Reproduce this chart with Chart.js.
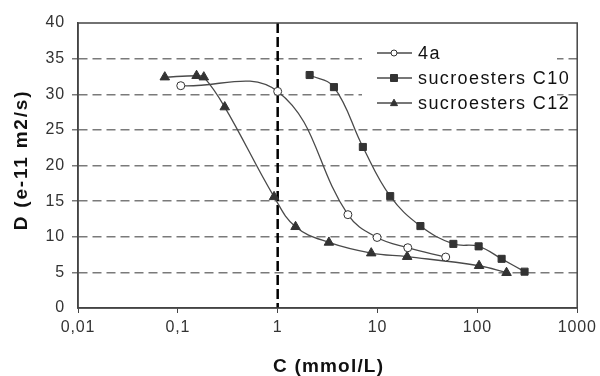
<!DOCTYPE html>
<html>
<head>
<meta charset="utf-8">
<script src="https://cdn.jsdelivr.net/npm/chart.js@4.4.0/dist/chart.umd.min.js"></script>
<style>
  html, body { margin: 0; padding: 0; background: #fff; }
  #wrap { width: 600px; height: 376px; }
</style>
</head>
<body>
<div id="wrap"><canvas id="chart" width="600" height="376"></canvas></div>
<script>
// concentration C (mmol/L) and diffusion D (e-11 m2/s)
const c4a = [0.107, 1.0, 5.05, 9.9, 20.1, 48.2];
const d4a = [31.2, 30.4, 13.1, 9.9, 8.46, 7.15];

const cC10 = [2.09, 3.66, 7.13, 13.4, 26.9, 57.5, 103, 175, 297];
const dC10 = [32.7, 31.0, 22.6, 15.7, 11.5, 9.0, 8.65, 6.9, 5.1];

const cC12 = [0.074, 0.154, 0.182, 0.295, 0.92, 1.51, 3.26, 8.65, 19.8, 104, 196];
const dC12 = [32.4, 32.6, 32.4, 28.2, 15.6, 11.4, 9.2, 7.7, 7.2, 5.93, 4.95];

const seriesNames = ['4a', 'sucroesters C10', 'sucroesters C12'];

const xTickValues = [0.01, 0.1, 1, 10, 100, 1000];
const xTickLabels = ['0,01', '0,1', '1', '10', '100', '1000'];
const markerC = 1; // dashed vertical line

const xTitle = 'C (mmol/L)';
const yTitle = 'D (e-11 m2/s)';

const FONT = "'Liberation Sans', Arial, sans-serif";
const INK = '#333';

function pts(xs, ys) {
    return xs.map((x, i) => ({ x: x, y: ys[i] }));
}

// small marker painter for the legend
function drawMarker(ctx, style, x, y, r, fill) {
    ctx.beginPath();
    if (style === 'circle') {
        ctx.arc(x, y, r, 0, Math.PI * 2);
    } else if (style === 'rect') {
        ctx.rect(x - r, y - r, r * 2, r * 2);
    } else {
        ctx.moveTo(x, y - r * 1.1);
        ctx.lineTo(x + r, y + r * 0.75);
        ctx.lineTo(x - r, y + r * 0.75);
        ctx.closePath();
    }
    ctx.fillStyle = fill;
    ctx.fill();
    ctx.strokeStyle = INK;
    ctx.lineWidth = 1;
    ctx.stroke();
}

const decorPlugin = {
    id: 'decor',
    beforeDraw(chart) {
        // the original text is set a little loose
        chart.ctx.letterSpacing = '0.8px';
    },
    beforeDatasetsDraw(chart) {
        const ctx = chart.ctx;
        const a = chart.chartArea;
        const x1 = chart.scales.x.getPixelForValue(markerC);
        ctx.save();
        // legend background hides the grid
        ctx.fillStyle = '#fff';
        ctx.fillRect(362, 34, 195, 82);
        // dashed line at C = 1
        ctx.setLineDash([10, 4]);
        ctx.strokeStyle = '#000';
        ctx.lineWidth = 2.5;
        ctx.beginPath();
        ctx.moveTo(x1, a.top);
        ctx.lineTo(x1, a.bottom);
        ctx.stroke();
        ctx.restore();
    },
    afterDraw(chart) {
        const ctx = chart.ctx;
        const a = chart.chartArea;
        ctx.save();
        // plot frame
        ctx.strokeStyle = '#444';
        ctx.lineWidth = 1.5;
        ctx.strokeRect(a.left, a.top, a.right - a.left, a.bottom - a.top);

        // axis titles
        ctx.fillStyle = '#111';
        ctx.font = 'bold 19px ' + FONT;
        ctx.textAlign = 'center';
        ctx.textBaseline = 'middle';
        ctx.letterSpacing = '1.2px';
        ctx.fillText(xTitle, (a.left + a.right) / 2 + 1, 367);
        ctx.save();
        ctx.letterSpacing = '1.8px';
        ctx.translate(22, 160);
        ctx.rotate(-Math.PI / 2);
        ctx.fillText(yTitle, 0, 0);
        ctx.restore();

        // legend
        const lx = 377, ly = 53, step = 25;
        ctx.textAlign = 'left';
        chart.data.datasets.forEach((ds, i) => {
            const y = ly + i * step;
            ctx.strokeStyle = ds.borderColor;
            ctx.lineWidth = 1.3;
            ctx.beginPath();
            ctx.moveTo(lx, y);
            ctx.lineTo(lx + 35, y);
            ctx.stroke();
            drawMarker(ctx, ds.pointStyle, lx + 17, y, ds.pointStyle === 'circle' ? 3 : 3.5, ds.pointBackgroundColor);
            ctx.fillStyle = '#111';
            ctx.font = '18px ' + FONT;
            ctx.letterSpacing = '1.4px';
            ctx.fillText(ds.label, lx + 41, y + 1);
        });
        ctx.restore();
    }
};

const lineStyle = {
    borderColor: '#4a4a4a',
    borderWidth: 1.3,
    tension: 0.4,
    fill: false,
    pointBorderColor: INK,
    pointBorderWidth: 1
};

new Chart(document.getElementById('chart'), {
    type: 'line',
    data: {
        datasets: [
            Object.assign({
                label: seriesNames[0],
                data: pts(c4a, d4a),
                pointStyle: 'circle',
                pointRadius: 4,
                pointBackgroundColor: '#fff'
            }, lineStyle),
            Object.assign({
                label: seriesNames[1],
                data: pts(cC10, dC10),
                pointStyle: 'rect',
                pointRadius: 5,
                pointBackgroundColor: INK
            }, lineStyle),
            Object.assign({
                label: seriesNames[2],
                data: pts(cC12, dC12),
                pointStyle: 'triangle',
                pointRadius: 5.5,
                pointBackgroundColor: INK
            }, lineStyle)
        ]
    },
    options: {
        responsive: false,
        devicePixelRatio: 1,
        animation: false,
        layout: { padding: { top: 23, right: 22, left: 0, bottom: 0 } },
        plugins: { legend: { display: false }, tooltip: { enabled: false } },
        scales: {
            x: {
                type: 'logarithmic',
                min: 0.01,
                max: 1000,
                afterBuildTicks(scale) {
                    scale.ticks = xTickValues.map(v => ({ value: v }));
                },
                afterFit(scale) { scale.height = 68; },
                ticks: {
                    autoSkip: false,
                    maxRotation: 0,
                    padding: 5,
                    color: INK,
                    font: { family: FONT, size: 16 },
                    callback: (v, i) => xTickLabels[i]
                },
                grid: { drawOnChartArea: false, drawTicks: true, tickLength: 5, color: '#444' },
                border: { color: '#444', width: 1.5 }
            },
            y: {
                min: 0,
                max: 40,
                afterFit(scale) { scale.width = 78; },
                ticks: {
                    stepSize: 5,
                    padding: 7,
                    color: INK,
                    font: { family: FONT, size: 16 }
                },
                grid: {
                    drawTicks: true,
                    tickLength: 6,
                    lineWidth: 1.5,
                    color: ctx => (ctx.tick && (ctx.tick.value === 0 || ctx.tick.value === 40)) ? 'rgba(0,0,0,0)' : '#7a7a7a'
                },
                border: { color: '#444', width: 1.5, dash: [9, 5] }
            }
        }
    },
    plugins: [decorPlugin]
});
</script>
</body>
</html>
